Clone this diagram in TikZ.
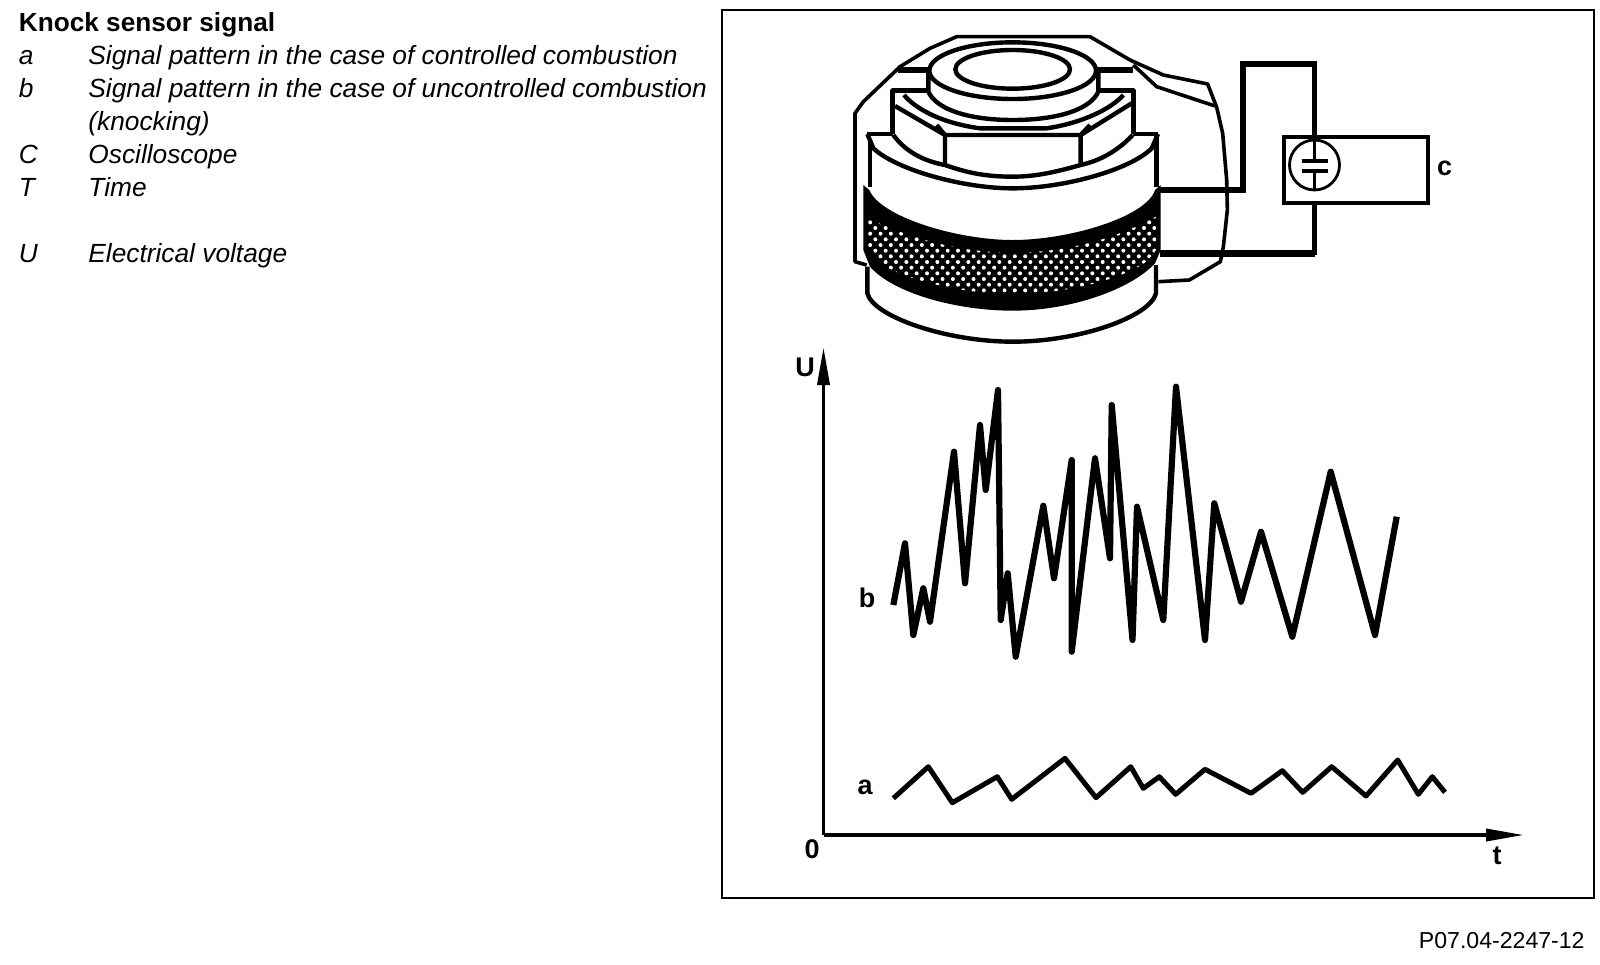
\documentclass[tikz,border=0pt]{standalone}
\usepackage{fontspec}
\setmainfont{Liberation Sans}
\usetikzlibrary{arrows.meta, positioning, calc}

\tikzset{
  keysym/.style={anchor=base west, inner sep=0pt, font=\fontsize{13.15}{15}\selectfont\itshape},
  keytxt/.style={keysym},
  tag/.style={inner sep=0pt, font=\fontsize{13.5}{15}\selectfont\bfseries},
  part/.style={line width=2.2pt, line join=round},
  wire/.style={line width=2.6pt, line join=miter},
  trace/.style={line width=3.1pt, line join=round},
  axis/.style={line width=1.8pt, -{Triangle[length=19pt, width=6pt]}}
}

\begin{document}
\begin{tikzpicture}[x=0.5pt, y=-0.5pt]
  \useasboundingbox (0,0) rectangle (1600,964);
  % legend
  \node[anchor=base west, inner sep=0pt, font=\fontsize{13.1}{15}\selectfont\bfseries] (title) at (18.5,31) {Knock sensor signal};
  \node[keysym] (syma) at (18.5,64) {a};
  \node[keytxt] (txta) at (88,64) {Signal pattern in the case of controlled combustion};
  \node[keysym] (symb) at (18.5,97) {b};
  \node[keytxt] (txtb) at (88,97) {Signal pattern in the case of uncontrolled combustion};
  \node[keytxt] (txtk) at (88,130) {(knocking)};
  \node[keysym] (symc) at (18.5,163) {C};
  \node[keytxt] (txtc) at (88,163) {Oscilloscope};
  \node[keysym] (symt) at (18.5,196) {T};
  \node[keytxt] (txtt) at (88,196) {Time};
  \node[keysym] (symu) at (18.5,262) {U};
  \node[keytxt] (txtu) at (88,262) {Electrical voltage};
  \node[anchor=base east, inner sep=0pt, font=\fontsize{11.55}{13}\selectfont] (code) at (1585,948) {P07.04-2247-12};
  % frame
  \draw[line width=1pt] (722,10) rectangle (1594,898);

  % the sensor, traced at a third of a pixel
  \begin{scope}[shift={(830,20)}, x=0.16667pt, y=-0.16667pt]
    % bracket behind the body
    \draw[part, line width=1.8pt]
      (110,735) -- (75,725) -- (75,280) -- (100,245) -- (210,140) -- (300,85) -- (380,50) -- (780,50)
      -- (900,120) -- (1000,165) -- (1133,192) -- (1160,262) -- (1178,340) -- (1190,480) -- (1192,570)
      -- (1180,680) -- (1171,725) -- (1078,780) -- (985,785);
    \draw[part, line width=1.8pt] (910,135) -- (980,200) -- (1155,258);
    % washer
    \draw[part] (295,155) -- (295,215) .. controls (320,270) and (420,300) .. (548,300)
      .. controls (680,300) and (780,270) .. (805,215) -- (805,155);
    \draw[part, fill=white] (548,152) ellipse (250 and 85);
    \draw[part] (548,148) ellipse (172 and 58);
    \draw[part, line width=2.8pt] (205,150) -- (295,150) (805,150) -- (910,150);
    % nut
    \draw[part] (295,212) -- (188,212) -- (188,342) (805,212) -- (910,212) -- (910,342);
    \draw[part] (222,225) .. controls (260,270) and (340,310) .. (450,325) -- (650,325)
      .. controls (750,310) and (840,270) .. (880,225);
    \draw[part] (195,258) -- (345,345) -- (752,345) -- (905,250);
    \draw[part] (320,315) -- (345,345) -- (345,432) (780,315) -- (752,345) -- (752,432);
    \draw[part] (190,345) .. controls (230,400) and (290,425) .. (345,435)
      .. controls (420,462) and (480,470) .. (548,470) .. controls (620,470) and (680,455) .. (752,435)
      .. controls (820,420) and (870,385) .. (908,345);
    % body
    \draw[part] (112,342) -- (188,342) (910,342) -- (984,342);
    \draw[part] (112,342) -- (130,385) .. controls (200,450) and (400,505) .. (548,505)
      .. controls (700,505) and (900,450) .. (965,385) -- (984,342);
    \draw[part] (120,365) -- (120,500) (980,342) -- (980,500);
    % knurled band
    \fill (100,495) -- (118,510) .. controls (150,590) and (380,660) .. (548,660)
      .. controls (720,660) and (950,590) .. (975,510) -- (992,495) -- (992,690) -- (975,730)
      .. controls (900,810) and (720,872) .. (548,872) .. controls (380,872) and (190,820) .. (120,740)
      -- (100,690) -- cycle;
    \begin{scope}
      \clip (115,595) .. controls (250,660) and (400,698) .. (548,698)
        .. controls (700,698) and (850,660) .. (978,590) -- (978,690) -- (955,720)
        .. controls (880,780) and (700,822) .. (548,822) .. controls (400,822) and (230,780) .. (160,735)
        -- (115,690) -- cycle;
      \foreach \r in {0,...,14}{
        \foreach \c in {0,...,30}{
          \fill[white] ({105+\c*31+mod(\r,2)*15.5},{590+\r*17}) circle (6);
        }
      }
    \end{scope}
    % foot
    \draw[part] (112,740) -- (112,820) .. controls (130,890) and (350,965) .. (548,965)
      .. controls (750,965) and (960,890) .. (978,820) -- (978,735);
  \end{scope}

  % oscilloscope
  \node[draw, line width=1.9pt, minimum width=72pt, minimum height=33pt, inner sep=0pt, anchor=north west] (osc) at (1282,135) {};
  \node[draw, circle, line width=1.4pt, minimum size=25pt, inner sep=0pt] (meter) at (1314.5,165) {};
  \node[tag, right=3.5pt of osc, yshift=1pt] (labc) {c};
  \coordinate (tapa) at (1160,190);
  \coordinate (bena) at (1243,64);
  \coordinate (tapb) at (1160,253.5);
  \draw[wire] (tapa) -| (bena) -| (osc.north west -| meter);
  \draw[wire, line width=3.7pt] (tapb) -- (meter |- tapb);
  \draw[wire] (osc.south west -| meter) -- ($(meter |- tapb)+(0,1.7)$);
  % plates of the capacitor
  \coordinate (plta) at (1314.5,160.5);
  \coordinate (pltb) at (1314.5,170.5);
  \draw[line width=2pt] ($(plta)+(-13,0)$) -- ($(plta)+(13,0)$) ($(pltb)+(-13,0)$) -- ($(pltb)+(13,0)$);
  \draw[line width=1.6pt] (meter.north) -- (plta) (pltb) -- (meter.south);

  % axes
  \coordinate (orig) at (823.5,835);
  \coordinate (uend) at (823.5,347);
  \coordinate (tend) at (1524,835);
  \draw[axis] (orig) -- (uend);
  \draw[axis] (orig) -- (tend);
  \node[tag] (labu) at (805,367) {U};
  \node[tag] (lab0) at (812,849) {0};
  \node[tag] (labt) at (1497,856) {t};
  \node[tag] (labb) at (867,598) {b};
  \node[tag] (laba) at (865,787) {a};

  % knocking trace
  \draw[trace] plot coordinates {
    (893.3,605) (905,543.3) (913.3,635) (923.3,588.3) (930,621.7) (954,451.7) (965,583.3)
    (980,425) (985.7,490) (998,390) (1000.7,620) (1007.7,573.3) (1015.7,656.7) (1043.3,505.7)
    (1054,578.3) (1071.7,460) (1071.7,651.7) (1095,458.3) (1110,558.3) (1111.7,405) (1132.5,640)
    (1137,506.7) (1163.3,620) (1176,386.7) (1205,640) (1214.3,503.3) (1241,601.7) (1261,531.7)
    (1292.3,636.7) (1330.7,471.7) (1375,635) (1396.7,516.7)};
  % controlled trace
  \draw[trace, line width=2.5pt] plot coordinates {
    (893.3,798.3) (928.3,766.7) (952.3,802.7) (997.3,776.7) (1011.7,799.3) (1065,758.3) (1096,797.7)
    (1130.7,766.7) (1143.3,788.3) (1159.3,776.7) (1175.7,794.3) (1205,769.3) (1251,793.3)
    (1282.3,770.7) (1302.7,792.3) (1331.7,766.7) (1366,796) (1397.7,760) (1418.3,794.3)
    (1432.3,776.7) (1445,792.3)};
\end{tikzpicture}
\end{document}
